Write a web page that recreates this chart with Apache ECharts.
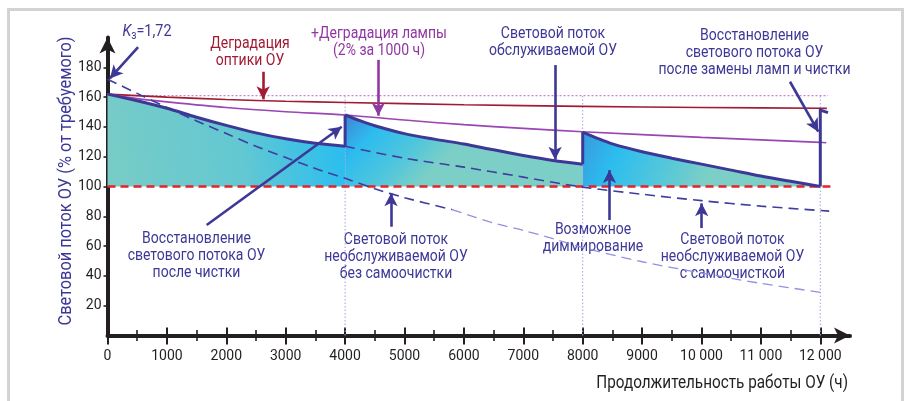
<!DOCTYPE html>
<html><head><meta charset="utf-8">
<script src="https://cdn.jsdelivr.net/npm/echarts@6/dist/echarts.min.js"></script>
<style>html,body{margin:0;padding:0;background:#fff}#c{width:907px;height:401px}</style>
</head><body><div id="c"></div>
<script>
// ---- data ----
const xMajor = [0,1000,2000,3000,4000,5000,6000,7000,8000,9000,10000,11000,12000];
const xMinor = [500,1500,2500,3500,4500,5500,6500,7500,8500,9500,10500,11500];
const yTicks = [20,40,60,80,100,120,140,160,180];
const cleanings = [4000, 8000, 12000];
const requiredLevel = 100;
const initialLevel = 161;
const optics = [[0,162],[1000,160],[2000,158.4],[3000,157.2],[4000,156.4],[6000,154.9],[8000,153.8],[10000,153],[12000,152.5],[12110,152.4]];
const lamp = [[0,162],[500,159],[1000,156.8],[2000,153],[3000,150.2],[4000,148],[5000,144.6],[6000,141.5],[7000,139],[8000,136.7],[10000,133],[12000,129.6],[12100,129.4]];
const seg1 = [[0,162],[500,157.5],[1000,152.5],[1500,146.5],[2000,141],[2500,136],[3000,132],[3500,129],[4000,127]];
const seg2 = [[4000,148],[4250,144.2],[4500,140.8],[5000,135.5],[5500,131.8],[6000,128.5],[6500,124.6],[7000,120.8],[7500,117.5],[8000,115]];
const seg3 = [[8000,136.5],[8250,132.3],[8500,128.6],[9000,123.3],[9500,119],[10000,115],[10500,111],[11000,107],[11500,103.5],[12000,100]];
const jumps = [[[4000,127],[4000,148]],[[8000,115],[8000,136.5]],[[12000,100],[12000,151.3],[12130,149.6]]];
const selfClean = [[4000,127],[5000,119],[6000,113],[7000,106.3],[8000,99.6],[9000,94.8],[10000,90.5],[11000,86.8],[12150,83.5]];
const noClean = [[0,172],[500,162.5],[1000,153],[1500,144],[2000,135.5],[2500,127],[3000,119.5],[3500,112],[4000,105.5],[4500,98.5],[5000,92.5],[5800,84.5]];
const noCleanLate = [[5800,84.5],[6500,75.5],[7000,70.5],[7500,65],[8000,59],[9000,49.5],[10000,42],[11000,35],[12000,29]];
// annotation arrows: [x1,y1,x2,y2,kind]
const arrows = [
  [515,193.5,40,172.5,'blue'],
  [2620,177,2620,158.5,'red'],
  [4560,185,4560,147.5,'purple'],
  [7535,181.5,7535,118,'blue'],
  [11490,170.3,11966,136.8,'blue'],
  [1670,74.2,3943,140.1,'blue'],
  [8450,77.5,8450,111,'blue'],
  [4773,73,4773,95.4,'blue'],
  [10003,72.1,10003,88.7,'blue']
];
const notes = [
  ['Деградация\nоптики ОУ', 250, 52.5, 'red'],
  ['+Деградация лампы\n(2% за 1000 ч)', 379, 42.5, 'purple'],
  ['Световой поток\nобслуживаемой ОУ', 553, 42.3, 'blue'],
  ['Восстановление\nсветового потока ОУ\nпосле замены ламп и чистки', 754.5, 52.8, 'blue'],
  ['Восстановление\nсветового потока ОУ\nпосле чистки', 196.5, 256, 'blue'],
  ['Световой поток\nнеобслуживаемой ОУ\nбез самоочистки', 396, 256.5, 'blue'],
  ['Возможное\nдиммирование', 593, 238.3, 'blue'],
  ['Световой поток\nнеобслуживаемой ОУ\nс самоочисткой', 732.5, 257, 'blue']
];
const yTitle = 'Световой поток ОУ (% от требуемого)';
const xTitle = 'Продолжительность работы ОУ (ч)';

// ---- style ----
const F = "Roboto,'Liberation Sans',sans-serif";
const C = {blue:'#3d3896', red:'#a11b33', purple:'#9038a2', ink:'#231f20'};
const chart = echarts.init(document.getElementById('c'), null, {renderer:'canvas'});
const G = echarts.graphic.LinearGradient;
const fmtX = v => v >= 10000 ? (Math.floor(v/1000) + ' 000') : String(v);

const xBase = {type:'value', min:0, max:12500, position:'bottom', splitLine:{show:false}};
const series = [];
function area(data, grad){
  series.push({type:'line', data, smooth:0.3, symbol:'none', lineStyle:{width:0}, areaStyle:{origin:requiredLevel, color:grad, opacity:1}, z:1, silent:true});
}
area(seg1, new G(0,0.85,1,0.35,[{offset:0,color:'#78ccc6'},{offset:0.55,color:'#63c8d2'},{offset:1,color:'#26bdf1'}]));
area(seg2, new G(0,0,0.3,1,[{offset:0,color:'#4283d5'},{offset:0.32,color:'#2dbcee'},{offset:0.7,color:'#50c6dc'},{offset:1,color:'#7ccfc6'}]));
area(seg3, new G(0,0,0.5,1,[{offset:0,color:'#3a98de'},{offset:0.3,color:'#2bbdee'},{offset:0.75,color:'#5cc9d6'},{offset:1,color:'#7ccfc6'}]));
cleanings.forEach(t => series.push({type:'line', data:[[t,0],[t,initialLevel]], symbol:'none', lineStyle:{color:'#9aa3e6', width:1, type:[1.5,2]}, z:2, silent:true}));
series.push({type:'line', data:[[0,initialLevel],[12130,initialLevel]], symbol:'none', lineStyle:{color:'#c685cc', width:1.2, type:[2,2]}, z:2, silent:true});
series.push({type:'line', data:[[0,requiredLevel],[12170,requiredLevel]], symbol:'none', lineStyle:{color:'#e5222a', width:2.6, type:[8,5]}, z:3, silent:true});
series.push({type:'line', data:optics, smooth:0.3, symbol:'none', lineStyle:{color:'#a11b33', width:1.6}, z:3, silent:true});
series.push({type:'line', data:lamp, smooth:0.3, symbol:'none', lineStyle:{color:'#9a45b4', width:1.6}, z:3, silent:true});
series.push({type:'line', data:selfClean, smooth:0.3, symbol:'none', lineStyle:{color:'#3f3d9e', width:1.6, type:[10,6]}, z:3, silent:true});
series.push({type:'line', data:noClean, smooth:0.3, symbol:'none', lineStyle:{color:'#3f3d9e', width:1.6, type:[10,6]}, z:3, silent:true});
series.push({type:'line', data:noCleanLate, smooth:0.3, symbol:'none', lineStyle:{color:'#9191e0', width:1.3, type:[10,6]}, z:3, silent:true});
[seg1,seg2,seg3].forEach(s => series.push({type:'line', data:s, smooth:0.3, symbol:'none', lineStyle:{color:C.blue, width:3}, z:4, silent:true}));
jumps.forEach(j => series.push({type:'line', data:j, symbol:'none', lineStyle:{color:C.blue, width:3, join:'miter'}, z:4, silent:true}));
series.push({type:'line', data:[], z:5, silent:true,
  markLine:{silent:true, animation:false, symbol:['none','arrow'], symbolSize:[10,13], label:{show:false},
    data: arrows.map(a => [{coord:[a[0],a[1]], lineStyle:{color:C[a[4]], width:2.6, type:'solid'}, itemStyle:{color:C[a[4]]}},{coord:[a[2],a[3]]}])}});

const SX = 0.875;
const graphics = [
  {type:'rect', shape:{x:8.5,y:9.5,width:894,height:420}, style:{fill:'none', stroke:'#d3d3d3', lineWidth:3}, z:-10, silent:true},
  {type:'text', x:66, y:181, rotation:Math.PI/2, scaleX:0.91, style:{text:yTitle, font:'18px '+F, fill:C.blue, align:'center', verticalAlign:'middle'}, silent:true},
  {type:'text', x:848, y:383, scaleX:0.85, style:{text:xTitle, font:'18px '+F, fill:C.ink, align:'right', verticalAlign:'middle'}, silent:true},
  {type:'text', x:147, y:32, scaleX:0.85, style:{text:'{k|K}{s|з}{n|=1,72}', rich:{k:{font:'italic 17px '+F, fill:C.blue, lineHeight:18}, s:{font:'12px '+F, fill:C.blue, lineHeight:18, padding:[8,0,0,0]}, n:{font:'17px '+F, fill:C.blue, lineHeight:18}}, align:'center', verticalAlign:'middle'}, silent:true}
];
notes.forEach(n => graphics.push({type:'text', x:n[1], y:n[2], scaleX:SX, style:{text:n[0], font:'16px '+F, fill:C[n[3]], align:'center', verticalAlign:'middle', lineHeight:17}, silent:true}));

chart.setOption({
  animation:false,
  backgroundColor:'#fff',
  grid:{left:107.5, right:57, top:37.5, bottom:65.5, containLabel:false},
  xAxis:[
    Object.assign({}, xBase, {axisLine:{show:true, lineStyle:{color:C.ink, width:4}, symbol:['none','arrow'], symbolSize:[12,16]},
      axisTick:{show:false}, axisLabel:{show:true, customValues:xMajor, formatter:fmtX, margin:14, color:C.ink, fontSize:14, fontFamily:F}}),
    Object.assign({}, xBase, {offset:-8, axisLine:{show:false}, axisLabel:{show:false},
      axisTick:{show:true, customValues:xMajor, length:17, lineStyle:{color:C.ink, width:2}}}),
    Object.assign({}, xBase, {offset:-5.5, axisLine:{show:false}, axisLabel:{show:false},
      axisTick:{show:true, customValues:xMinor, length:11, lineStyle:{color:C.ink, width:1.6}}})
  ],
  yAxis:{type:'value', min:0, max:200, interval:20, splitLine:{show:false},
    axisLine:{show:true, lineStyle:{color:C.ink, width:4}, symbol:['none','arrow'], symbolSize:[12,16]},
    axisTick:{show:true, customValues:yTicks, length:4, lineStyle:{color:C.ink, width:1.6}},
    axisLabel:{customValues:yTicks, margin:6, color:C.ink, fontSize:14, fontFamily:F}},
  series,
  graphic:graphics
});
</script></body></html>
